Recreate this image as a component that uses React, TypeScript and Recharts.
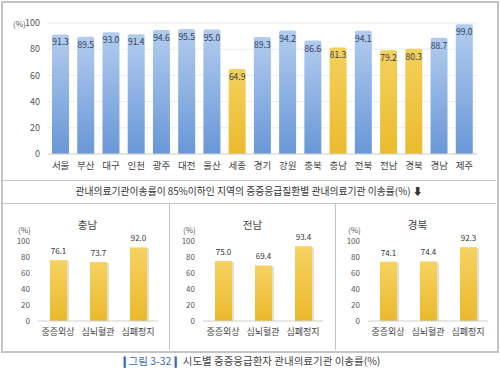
import { Bar, BarChart, CartesianGrid, Cell, LabelList, XAxis, YAxis } from "recharts";

const regions = ["서울", "부산", "대구", "인천", "광주", "대전", "울산", "세종", "경기", "강원", "충북", "충남", "전북", "전남", "경북", "경남", "제주"];
const transferRate = [91.3, 89.5, 93.0, 91.4, 94.6, 95.5, 95.0, 64.9, 89.3, 94.2, 86.6, 81.3, 94.1, 79.2, 80.3, 88.7, 99.0];
const lowRegions = ["세종", "충남", "전남", "경북"];
const yTicks = [0, 20, 40, 60, 80, 100];

const diseases = ["중증외상", "심뇌혈관", "심폐정지"];
const chungnam = [76.1, 73.7, 92.0];
const jeonnam = [75.0, 69.4, 93.4];
const gyeongbuk = [74.1, 74.4, 92.3];

const FONT = "'Noto Sans CJK KR', 'Noto Sans', sans-serif";
const BORDER = "#c4c4c4";

const topData = regions.map((region, i) => ({ region, value: transferRate[i] }));

const panels = [
  { title: "충남", values: chungnam },
  { title: "전남", values: jeonnam },
  { title: "경북", values: gyeongbuk },
];

const tickStyle = { fontSize: 9, fill: "#555", fontFamily: FONT };

function InsideTopLabel(props: any) {
  const { x, y, width, value } = props;
  return (
    <text x={x + width / 2} y={y + 11} textAnchor="middle" fontSize={8.5} fill="#2f3b52" fontFamily={FONT}>
      {Number(value).toFixed(1)}
    </text>
  );
}

function TopLabel(props: any) {
  const { x, y, width, value } = props;
  return (
    <text x={x + width / 2} y={y - 6} textAnchor="middle" fontSize={8} fill="#333" fontFamily={FONT}>
      {Number(value).toFixed(1)}
    </text>
  );
}

function GoldBar(props: any) {
  const { x, y, width, height } = props;
  if (height <= 0) return null;
  return (
    <g>
      <rect x={x + 2} y={y + 1} width={width} height={height - 1} fill="#d9d2c0" opacity={0.7} />
      <rect x={x} y={y} width={width} height={height} fill="url(#goldPanel)" />
    </g>
  );
}

function Panel({ title, values, left }: { title: string; values: number[]; left: number }) {
  const data = diseases.map((name, i) => ({ name, value: values[i] }));
  return (
    <div style={{ position: "absolute", left, top: 203, width: 165, height: 135 }}>
      <div style={{ position: "absolute", left: 0, width: 165, top: 14, textAlign: "center", fontSize: 10.5, color: "#444", fontFamily: FONT, paddingLeft: 10, boxSizing: "border-box" }}>
        {title}
      </div>
      <div style={{ position: "absolute", left: 18, top: 21, fontSize: 8, color: "#555", fontFamily: FONT }}>(%)</div>
      <BarChart width={165} height={135} data={data} margin={{ top: 38, right: 7, left: 8, bottom: 3 }}>
        <defs>
          <linearGradient id="goldPanel" x1="0" y1="0" x2="0" y2="1">
            <stop offset="0%" stopColor="#f6d261" />
            <stop offset="100%" stopColor="#eab92c" />
          </linearGradient>
        </defs>
        <XAxis dataKey="name" tick={{ ...tickStyle, fontSize: 9, fill: "#444" }} tickLine={false} axisLine={{ stroke: "#cfcfcf" }} height={14} interval={0} />
        <YAxis domain={[0, 100]} ticks={yTicks} tick={{ ...tickStyle, fontSize: 8 }} tickLine={false} axisLine={false} width={30} />
        <Bar dataKey="value" barSize={17} shape={<GoldBar />} isAnimationActive={false}>
          <LabelList dataKey="value" content={<TopLabel />} />
        </Bar>
      </BarChart>
    </div>
  );
}

export default function App() {
  return (
    <div style={{ position: "absolute", left: 0, top: 0, width: 500, height: 373, background: "#fff", fontFamily: FONT }}>
      {/* outer frame */}
      <div style={{ position: "absolute", left: 1, top: 1, width: 494, height: 348, border: `2px solid ${BORDER}` }} />
      <div style={{ position: "absolute", left: 2, top: 180, width: 494, height: 1, background: BORDER }} />
      <div style={{ position: "absolute", left: 2, top: 203, width: 494, height: 1, background: BORDER }} />
      <div style={{ position: "absolute", left: 169, top: 203, width: 1, height: 147, background: BORDER }} />
      <div style={{ position: "absolute", left: 335, top: 203, width: 1, height: 147, background: BORDER }} />

      <div style={{ position: "absolute", left: 0, top: 0 }}>
        <div style={{ position: "absolute", left: 13, top: 18, fontSize: 8, color: "#555", fontFamily: FONT, zIndex: 1 }}>(%)</div>
        <BarChart width={500} height={180} data={topData} margin={{ top: 23, right: 23, left: 18, bottom: 6 }}>
          <defs>
            <linearGradient id="blueBar" x1="0" y1="0" x2="0" y2="1">
              <stop offset="0%" stopColor="#b2ccef" />
              <stop offset="100%" stopColor="#6997d7" />
            </linearGradient>
            <linearGradient id="goldBar" x1="0" y1="0" x2="0" y2="1">
              <stop offset="0%" stopColor="#f4d15c" />
              <stop offset="100%" stopColor="#ebbb2e" />
            </linearGradient>
          </defs>
          <CartesianGrid vertical={false} stroke="#ececec" />
          <XAxis dataKey="region" tick={{ ...tickStyle, fontSize: 9.5, fill: "#444" }} tickLine={false} axisLine={{ stroke: "#d4d4d4" }} height={20} interval={0} />
          <YAxis domain={[0, 100]} ticks={yTicks} tick={tickStyle} tickLine={false} axisLine={false} width={30} />
          <Bar dataKey="value" barSize={17} radius={[2, 2, 0, 0]} isAnimationActive={false}>
            {topData.map((d) => (
              <Cell key={d.region} fill={lowRegions.includes(d.region) ? "url(#goldBar)" : "url(#blueBar)"} />
            ))}
            <LabelList dataKey="value" content={<InsideTopLabel />} />
          </Bar>
        </BarChart>
      </div>

      <div style={{ position: "absolute", left: 2, top: 184, width: 494, textAlign: "center", fontSize: 9.8, color: "#333", fontFamily: FONT }}>
        관내의료기관이송률이 85%이하인 지역의 중증응급질환별 관내의료기관 이송률(%) <b>⬇</b>
      </div>

      {panels.map((p, i) => (
        <Panel key={p.title} title={p.title} values={p.values} left={i * 165} />
      ))}

      <div style={{ position: "absolute", left: 0, top: 353, width: 500, textAlign: "center", fontSize: 10.5, color: "#444", fontFamily: FONT }}>
        <span style={{ color: "#3d6cb9" }}>
          <b>❙</b>그림 3-32<b>❙</b>
        </span>{" "}
        시도별 중증응급환자 관내의료기관 이송률(%)
      </div>
    </div>
  );
}
